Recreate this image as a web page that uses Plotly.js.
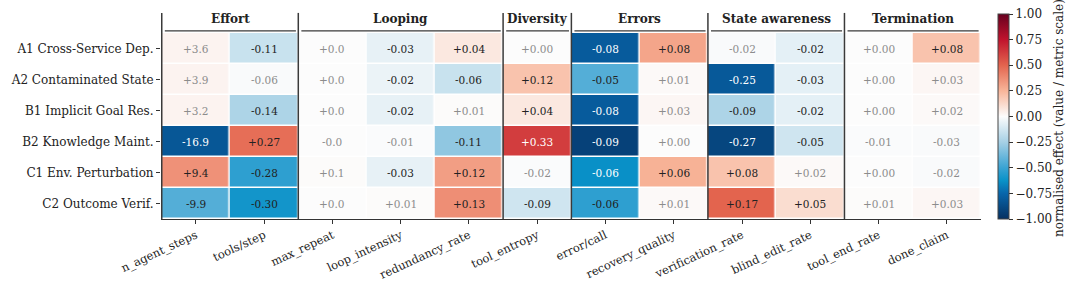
<!DOCTYPE html>
<html>
<head>
<meta charset="utf-8">
<script src="https://cdn.plot.ly/plotly-3.0.1.min.js"></script>
<style>html,body{margin:0;padding:0;background:#fff;}#chart{width:1080px;height:282px;}</style>
</head>
<body>
<div id="chart"></div>
<script>
const rows = ['A1 Cross-Service Dep.', 'A2 Contaminated State', 'B1 Implicit Goal Res.', 'B2 Knowledge Maint.', 'C1 Env. Perturbation', 'C2 Outcome Verif.'];
const metrics = ['n_agent_steps', 'tools/step', 'max_repeat', 'loop_intensity', 'redundancy_rate', 'tool_entropy', 'error/call', 'recovery_quality', 'verification_rate', 'blind_edit_rate', 'tool_end_rate', 'done_claim'];
const groupNames = ['Effort', 'Looping', 'Diversity', 'Errors', 'State awareness', 'Termination'];
const groupSizes = [2, 3, 1, 2, 2, 2];

// printed effect values
const labels = [
  ['+3.6', '-0.11', '+0.0', '-0.03', '+0.04', '+0.00', '-0.08', '+0.08', '-0.02', '-0.02', '+0.00', '+0.08'],
  ['+3.9', '-0.06', '+0.0', '-0.02', '-0.06', '+0.12', '-0.05', '+0.01', '-0.25', '-0.03', '+0.00', '+0.03'],
  ['+3.2', '-0.14', '+0.0', '-0.02', '+0.01', '+0.04', '-0.08', '+0.03', '-0.09', '-0.02', '+0.00', '+0.02'],
  ['-16.9', '+0.27', '-0.0', '-0.01', '-0.11', '+0.33', '-0.09', '+0.00', '-0.27', '-0.05', '-0.01', '-0.03'],
  ['+9.4', '-0.28', '+0.1', '-0.03', '+0.12', '-0.02', '-0.06', '+0.06', '+0.08', '+0.02', '+0.00', '-0.02'],
  ['-9.9', '-0.30', '+0.0', '+0.01', '+0.13', '-0.09', '-0.06', '+0.01', '+0.17', '+0.05', '+0.01', '+0.03']
];
// normalised effect (value / metric scale)
const normEffect = [
  [0.03, -0.15, 0.0, -0.06, 0.07, 0.0, -0.80, 0.30, -0.01, -0.07, 0.0, 0.20],
  [0.03, -0.01, 0.0, -0.05, -0.15, 0.20, -0.44, 0.01, -0.81, -0.07, 0.0, 0.02],
  [0.03, -0.23, 0.0, -0.06, 0.005, 0.07, -0.80, 0.02, -0.23, -0.07, 0.0, 0.01],
  [-0.82, 0.47, 0.0, -0.005, -0.30, 0.62, -0.92, 0.0, -0.90, -0.13, -0.005, -0.01],
  [0.36, -0.53, 0.005, -0.06, 0.32, -0.005, -0.63, 0.26, 0.20, 0.01, 0.0, -0.01],
  [-0.44, -0.60, 0.0, 0.005, 0.37, -0.13, -0.53, 0.01, 0.50, 0.11, 0.005, 0.02]
];

const cbTicks = [-1, -0.75, -0.5, -0.25, 0, 0.25, 0.5, 0.75, 1];

const serif = 'DejaVu Serif, serif';
const colorscale = [
  [0.0, '#053061'],
  [0.125, '#0866ab'],
  [0.1875, '#0992c8'],
  [0.25, '#3aa3d3'],
  [0.375, '#a6d0e5'],
  [0.5, '#fcfcfc'],
  [0.625, '#f8b599'],
  [0.75, '#e3644e'],
  [0.875, '#c0132d'],
  [1.0, '#67001f']
];

const trace = {
  type: 'heatmap',
  x: metrics,
  y: rows,
  z: normEffect,
  zmin: -1, zmax: 1,
  colorscale: colorscale,
  xgap: 1.5, ygap: 1.5,
  hoverinfo: 'skip',
  colorbar: {
    thickness: 11,
    lenmode: 'pixels', len: 205,
    y: 0, yanchor: 'bottom',
    x: 1.0207, xanchor: 'left',
    xpad: 0, ypad: 0,
    outlinewidth: 1, outlinecolor: '#444',
    tickvals: cbTicks,
    tickformat: '.2f',
    ticks: 'outside', ticklen: 4, tickcolor: '#333',
    tickfont: {family: serif, size: 12, color: '#222'}
  }
};

const annotations = [];
for (let r = 0; r < rows.length; r++) {
  for (let c = 0; c < metrics.length; c++) {
    const v = Math.abs(normEffect[r][c]);
    const col = v < 0.04 ? '#8c8c8c' : (v > 0.61 ? '#ffffff' : '#222222');
    annotations.push({
      x: metrics[c], y: rows[r], xref: 'x', yref: 'y',
      text: labels[r][c], showarrow: false,
      font: {family: serif, size: 10.5, color: col}
    });
  }
}

const shapes = [];
let start = 0;
const lineCol = '#3a3a3a';
groupSizes.forEach((n, i) => {
  const x0 = start - 0.5, x1 = start + n - 0.5;
  shapes.push({type: 'line', xref: 'x', yref: 'paper', x0: x0, x1: x0, y0: 0, y1: 1.108,
    line: {color: lineCol, width: 1.5}});
  shapes.push({type: 'line', xref: 'x', yref: 'paper', x0: x0 + 0.045, x1: x1 - 0.035, y0: 1.011, y1: 1.011,
    line: {color: lineCol, width: 1.3}});
  annotations.push({x: start + (n - 1) / 2, y: 1.075, xref: 'x', yref: 'paper', text: '<b>' + groupNames[i] + '</b>',
    showarrow: false, yanchor: 'middle', font: {family: serif, size: 12, color: '#222'}});
  start += n;
});

annotations.push({
  x: 1.106, y: 0.543, xref: 'paper', yref: 'paper', textangle: -90,
  text: 'normalised effect (value / metric scale)', showarrow: false,
  font: {family: serif, size: 12, color: '#222'}
});

const layout = {
  width: 1080, height: 282,
  margin: {l: 161, r: 99, t: 33, b: 63},
  paper_bgcolor: '#fff', plot_bgcolor: '#fff',
  font: {family: serif, color: '#222'},
  xaxis: {
    type: 'category', tickangle: -25,
    tickfont: {family: serif, size: 11.5, color: '#222'},
    ticks: 'outside', ticklen: 4, tickcolor: '#333',
    showline: true, linecolor: '#333', linewidth: 1.2,
    showgrid: false, zeroline: false, fixedrange: true
  },
  yaxis: {
    type: 'category', autorange: 'reversed',
    tickfont: {family: serif, size: 12, color: '#222'},
    ticks: 'outside', ticklen: 4, tickcolor: '#333',
    showline: false, showgrid: false, zeroline: false, fixedrange: true
  },
  shapes: shapes,
  annotations: annotations,
  showlegend: false
};

Plotly.newPlot('chart', [trace], layout, {displayModeBar: false, staticPlot: true});
</script>
</body>
</html>
